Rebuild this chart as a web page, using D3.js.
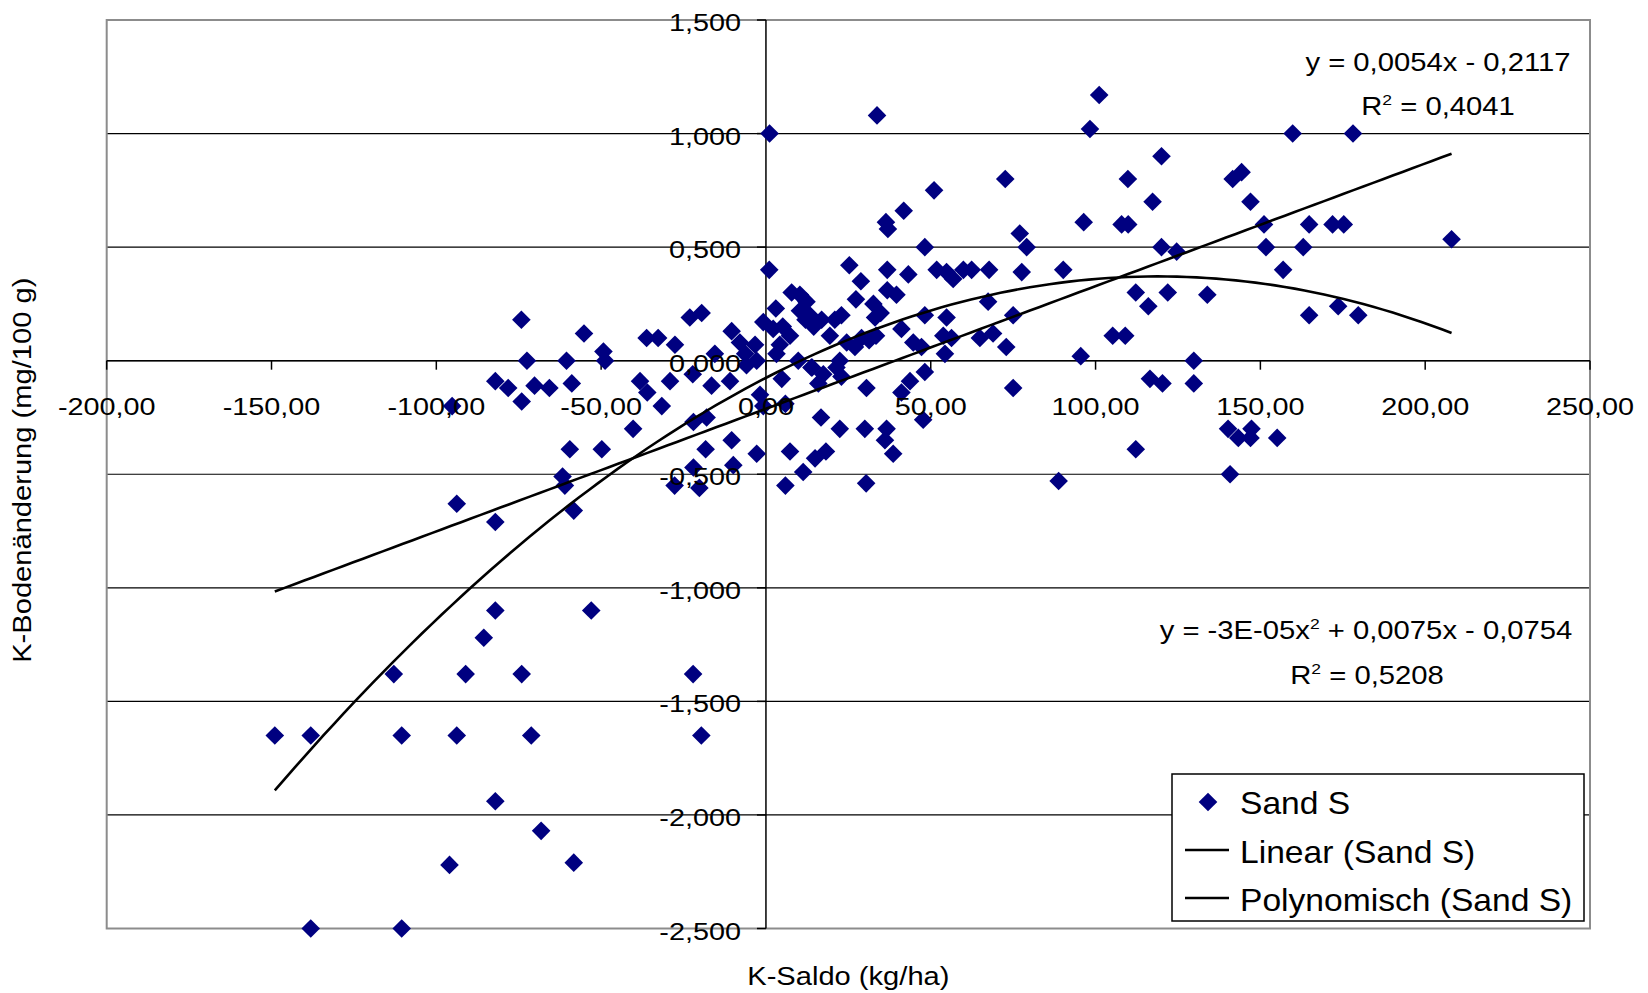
<!DOCTYPE html>
<html>
<head>
<meta charset="utf-8">
<script src="https://cdn.jsdelivr.net/npm/d3@7"></script>
<style>
  html, body { margin: 0; padding: 0; background: #fff; }
  text { font-family: "Liberation Sans", Arial, sans-serif; fill: #000; }
</style>
</head>
<body>
<svg id="chart" width="1648" height="993"></svg>
<script>
// ---------------- DATA ----------------
const kSaldo = [
  -149.0,-138.1,-138.1,-112.9,-110.5,-110.5,-93.8,-82.1,-82.1,-85.6,-91.1,-74.1,-93.8,-71.2,-82.1,-68.2,-96.0,-95.2,-74.1,-61.7,
  -74.2,-72.5,-82.1,-78.2,-70.2,-65.7,-60.5,-55.2,-49.3,-48.8,-58.9,-59.5,-49.8,-61.0,-58.3,-53.0,-58.3,
  -36.2,-32.7,-27.6,-23.1,-19.5,-38.2,-36.0,-29.1,-31.6,-22.2,-16.5,-15.5,-40.3,-22.0,-18.0,-18.3,-22.0,-27.7,-20.2,-22.1,-19.6,
  -9.9,-10.4,-10.9,-10.4,-7.9,-3.3,-6.3,-5.9,-2.8,-1.8,-2.8,
  1.0,1.1,3.0,-0.8,2.2,7.8,10.3,12.3,10.3,13.3,12.0,14.5,7.3,5.1,4.2,3.2,9.8,4.8,14.0,-0.8,7.3,11.3,14.9,5.9,5.9,16.7,18.2,
  16.9,22.9,20.9,19.4,24.5,27.0,29.0,33.4,31.3,22.4,21.4,13.8,17.4,15.9,22.9,30.5,
  22.4,30.0,36.6,36.1,38.6,30.4,47.7,88.8,43.7,48.2,41.1,75.0,
  33.7,72.6,51.0,41.8,36.4,37.0,96.4,48.2,77.0,79.1,77.6,25.3,36.8,43.2,51.8,54.8,56.8,59.9,62.4,67.7,
  28.8,36.8,39.6,27.3,32.6,34.8,33.1,41.1,44.7,47.2,48.2,54.8,53.8,56.3,54.3,64.9,68.9,67.4,75.0,72.9,90.2,95.5,
  101.1,98.3,120.0,109.8,117.3,107.9,109.9,120.0,124.6,112.2,116.0,121.9,133.9,105.2,109.0,129.8,116.5,120.3,129.8,112.2,
  140.8,140.2,143.3,147.3,147.0,155.1,141.6,144.3,147.0,159.8,178.1,151.1,151.7,156.9,164.8,163.0,171.9,175.3,164.8,173.6,179.7,208.0
];
const kBoden = [
  -1.65,-1.65,-2.50,-1.38,-1.65,-2.50,-0.63,-0.71,-1.10,-1.22,-1.38,-1.38,-1.65,-1.65,-1.94,-2.07,-2.22,-0.20,-0.18,-0.51,
  0.18,0.00,-0.09,-0.12,-0.11,-0.12,0.00,0.12,0.04,0.00,-0.10,-0.39,-0.39,-0.55,-0.66,-1.10,-2.21,
  0.10,0.10,0.07,0.19,0.21,-0.09,-0.14,-0.09,-0.20,-0.06,-0.11,0.03,-0.30,-0.27,-0.25,-0.39,-0.47,-0.55,-0.56,-1.38,-1.65,
  -0.46,-0.35,-0.09,0.13,0.08,0.07,0.03,-0.02,0.00,-0.15,-0.41,
  0.40,1.00,0.23,0.17,0.14,0.30,0.29,0.26,0.22,0.20,0.18,0.15,0.11,0.15,0.07,0.03,0.00,-0.08,-0.03,-0.20,-0.40,-0.49,-0.43,-0.55,-0.19,-0.25,-0.40,
  0.18,0.20,0.18,0.11,0.08,0.06,0.10,0.11,0.09,0.00,-0.03,-0.03,-0.06,-0.10,-0.07,-0.12,
  -0.30,-0.30,-0.30,-0.35,-0.41,-0.54,-0.26,-0.53,-0.09,-0.05,-0.14,-0.12,
  1.08,0.80,0.75,0.66,0.61,0.58,0.61,0.50,0.56,0.50,0.39,0.42,0.40,0.38,0.40,0.39,0.36,0.40,0.40,0.40,
  0.35,0.31,0.29,0.27,0.25,0.21,0.19,0.14,0.08,0.06,0.20,0.19,0.11,0.10,0.03,0.10,0.12,0.26,0.20,0.06,0.40,0.02,
  1.17,1.02,0.90,0.80,0.70,0.60,0.60,0.50,0.48,0.30,0.24,0.30,0.29,0.11,0.11,0.00,-0.08,-0.10,-0.10,-0.39,
  -0.50,-0.30,-0.34,-0.30,-0.34,-0.34,0.80,0.83,0.70,1.00,1.00,0.60,0.50,0.40,0.60,0.50,0.60,0.60,0.20,0.24,0.20,0.535
];
const xTicks = [-200, -150, -100, -50, 0, 50, 100, 150, 200, 250];
const xTickLabels = ["-200,00", "-150,00", "-100,00", "-50,00", "0,00", "50,00", "100,00", "150,00", "200,00", "250,00"];
const yTicks = [1.5, 1.0, 0.5, 0.0, -0.5, -1.0, -1.5, -2.0, -2.5];
const yTickLabels = ["1,500", "1,000", "0,500", "0,000", "-0,500", "-1,000", "-1,500", "-2,000", "-2,500"];
const seriesName = "Sand S";
const legendLabels = ["Sand S", "Linear (Sand S)", "Polynomisch (Sand S)"];
// trend line coefficients (as fitted, displayed rounded in the equations)
const linCoef = [-0.2117, 0.0054];            // c0 + c1*x
const polyCoef = [-0.0754, 0.0075, -0.0000315]; // c0 + c1*x + c2*x^2
const eqLinear = ["y = 0,0054x - 0,2117", "0,4041"];
const eqPoly = ["y = -3E-05x", " + 0,0075x - 0,0754", "0,5208"];

// ---------------- LAYOUT ----------------
const svg = d3.select("#chart");
const L = 106.7, R = 1590, T = 20, B = 928.5;
const x = d3.scaleLinear().domain([-200, 250]).range([L, R]);
const y = d3.scaleLinear().domain([-2.5, 1.5]).range([B, T]);
const navy = "#000080";

function sText(parent, px, py, str, size, sx, anchor) {
  const g = parent.append("g").attr("transform", `translate(${px},${py}) scale(${sx},1)`);
  const t = g.append("text").attr("text-anchor", anchor).attr("font-size", size);
  if (str !== null) t.text(str);
  return t;
}

// plot background
svg.append("rect").attr("x", L).attr("y", T).attr("width", R - L).attr("height", B - T).attr("fill", "#fff");

// gridlines
svg.append("g").selectAll("line").data(yTicks.filter(v => v > -2.5 && v < 1.5)).join("line")
  .attr("x1", L).attr("x2", R).attr("y1", d => y(d)).attr("y2", d => y(d))
  .attr("stroke", "#000").attr("stroke-width", 1.2);

// plot border
svg.append("rect").attr("x", L).attr("y", T).attr("width", R - L).attr("height", B - T)
  .attr("fill", "none").attr("stroke", "#8c8c8c").attr("stroke-width", 2);

// axes lines
svg.append("line").attr("x1", L).attr("x2", R).attr("y1", y(0)).attr("y2", y(0)).attr("stroke", "#000").attr("stroke-width", 1.5);
svg.append("line").attr("x1", x(0)).attr("x2", x(0)).attr("y1", T).attr("y2", B).attr("stroke", "#000").attr("stroke-width", 1.5);
// ticks
svg.append("g").selectAll("line").data(xTicks).join("line")
  .attr("x1", d => x(d)).attr("x2", d => x(d)).attr("y1", y(0)).attr("y2", y(0) + 9)
  .attr("stroke", "#000").attr("stroke-width", 1.5);
svg.append("g").selectAll("line").data(yTicks).join("line")
  .attr("x1", x(0) - 9).attr("x2", x(0)).attr("y1", d => y(d)).attr("y2", d => y(d))
  .attr("stroke", "#000").attr("stroke-width", 1.5);

// points
const pts = kSaldo.map((v, i) => ({ x: v, y: kBoden[i] }));
const diamond = { draw(ctx, size) { const r = Math.sqrt(size / 2); ctx.moveTo(0, -r); ctx.lineTo(r, 0); ctx.lineTo(0, r); ctx.lineTo(-r, 0); ctx.closePath(); } };
const sym = d3.symbol().type(diamond).size(2 * 9.3 * 9.3);
svg.append("g").selectAll("path").data(pts).join("path")
  .attr("d", sym).attr("transform", d => `translate(${x(d.x)},${y(d.y)})`).attr("fill", navy);

// trend lines
const xMin = d3.min(kSaldo), xMax = d3.max(kSaldo);
const xs = d3.range(0, 121).map(i => xMin + (xMax - xMin) * i / 120);
const line = d3.line().x(d => x(d[0])).y(d => y(d[1]));
svg.append("path").datum(xs.map(v => [v, linCoef[0] + linCoef[1] * v]))
  .attr("d", line).attr("fill", "none").attr("stroke", "#000").attr("stroke-width", 2.6);
svg.append("path").datum(xs.map(v => [v, polyCoef[0] + polyCoef[1] * v + polyCoef[2] * v * v]))
  .attr("d", line).attr("fill", "none").attr("stroke", "#000").attr("stroke-width", 2.6);

// tick labels
xTicks.forEach((v, i) => sText(svg, x(v), y(0) + 54, xTickLabels[i], 24, 1.2, "middle"));
yTicks.forEach((v, i) => sText(svg, x(0) - 25, y(v) + 11, yTickLabels[i], 24, 1.2, "end"));

// equations
function r2(parent, px, py, val) {
  const t = sText(parent, px, py, null, 25, 1.17, "middle");
  t.append("tspan").text("R");
  t.append("tspan").attr("font-size", 15).attr("dy", -10).text("2");
  t.append("tspan").attr("dy", 10).text(" = " + val);
}
sText(svg, 1438, 71, eqLinear[0], 25, 1.17, "middle");
r2(svg, 1438, 115, eqLinear[1]);
{
  const t = sText(svg, 1366, 639, null, 25, 1.17, "middle");
  t.append("tspan").text(eqPoly[0]);
  t.append("tspan").attr("font-size", 15).attr("dy", -10).text("2");
  t.append("tspan").attr("dy", 10).text(eqPoly[1]);
}
r2(svg, 1367, 684, eqPoly[2]);

// axis titles
sText(svg, (L + R) / 2, 985, "K-Saldo (kg/ha)", 26, 1.12, "middle");
{
  const g = svg.append("g").attr("transform", `translate(31,${(T + B) / 2 - 4}) rotate(-90) scale(1.12,1)`);
  g.append("text").attr("text-anchor", "middle").attr("font-size", 26).text("K-Bodenänderung (mg/100 g)");
}

// legend
const lg = svg.append("g");
lg.append("rect").attr("x", 1172).attr("y", 774).attr("width", 412).attr("height", 147)
  .attr("fill", "#fff").attr("stroke", "#000").attr("stroke-width", 1.5);
lg.append("path").attr("d", sym).attr("transform", "translate(1208,802)").attr("fill", navy);
lg.append("line").attr("x1", 1185).attr("x2", 1229).attr("y1", 850).attr("y2", 850).attr("stroke", "#000").attr("stroke-width", 2.6);
lg.append("line").attr("x1", 1185).attr("x2", 1229).attr("y1", 898).attr("y2", 898).attr("stroke", "#000").attr("stroke-width", 2.6);
sText(lg, 1240, 814, legendLabels[0], 32, 1.05, "start");
sText(lg, 1240, 863, legendLabels[1], 32, 1.05, "start");
sText(lg, 1240, 911, legendLabels[2], 32, 1.05, "start");
</script>
</body>
</html>
